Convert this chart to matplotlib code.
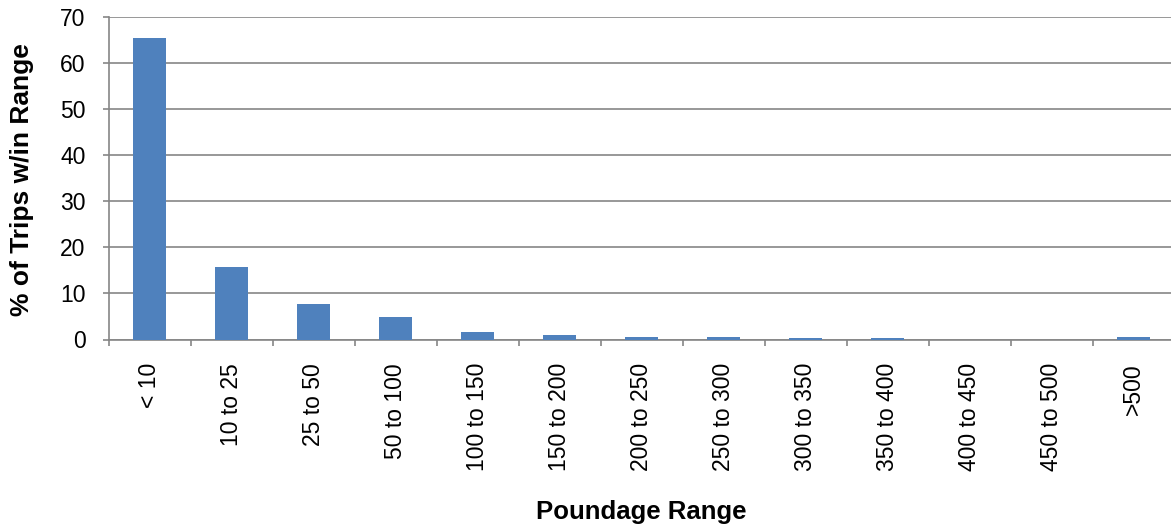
import matplotlib
matplotlib.use("Agg")
import matplotlib.pyplot as plt
import numpy as np

categories = ["< 10", "10 to 25", "25 to 50", "50 to 100", "100 to 150", "150 to 200",
              "200 to 250", "250 to 300", "300 to 350", "350 to 400", "400 to 450",
              "450 to 500", ">500"]
values = [65.4, 15.7, 7.8, 4.8, 1.7, 1.0, 0.65, 0.45, 0.25, 0.25, 0.0, 0.0, 0.65]
yticks = [0, 10, 20, 30, 40, 50, 60, 70]

plt.rcParams['font.family'] = ['Liberation Sans', 'DejaVu Sans']

W, H = 1171, 529
fig = plt.figure(figsize=(W / 100, H / 100), dpi=100)
ax = fig.add_axes([108.5 / W, (H - 339.5) / H, 1066 / W, 322.5 / H])

x = np.arange(len(categories))
ax.bar(x, values, width=0.4, color="#4F81BD", zorder=3)

ax.set_xlim(-0.5, len(categories) - 0.5)
ax.set_ylim(0, 70)
ax.set_yticks(yticks)
ax.set_yticklabels([str(v) for v in yticks], fontsize=16.5)

# category boundary ticks
ax.set_xticks(np.arange(len(categories) + 1) - 0.5)
ax.set_xticklabels([])
ax.set_xticks(x, minor=True)
ax.set_xticklabels(categories, minor=True, rotation=90, fontsize=16.5, va="top", ha="center")
ax.tick_params(axis="x", which="minor", length=0, pad=16.9)
ax.tick_params(axis="x", which="major", length=4.3, width=1.2, color="#868686", direction="out")
ax.tick_params(axis="y", length=4.3, width=1.2, color="#868686", direction="out", pad=12.2)

ax.yaxis.grid(True, color="#868686", linewidth=1.2, zorder=0)
ax.set_axisbelow(True)
for s in ["top", "right"]:
    ax.spines[s].set_visible(False)
for s in ["left", "bottom"]:
    ax.spines[s].set_color("#868686")
    ax.spines[s].set_linewidth(1.2)
    ax.spines[s].set_zorder(2)

fig.text(641 / W, 1 - 512 / H, "Poundage Range", fontsize=18.5, fontweight="bold",
         ha="center", va="center")
fig.text(22 / W, 1 - 180 / H, "% of Trips w/in Range", fontsize=19, fontweight="bold",
         ha="center", va="center", rotation=90)

fig.savefig("out.png", dpi=100)
